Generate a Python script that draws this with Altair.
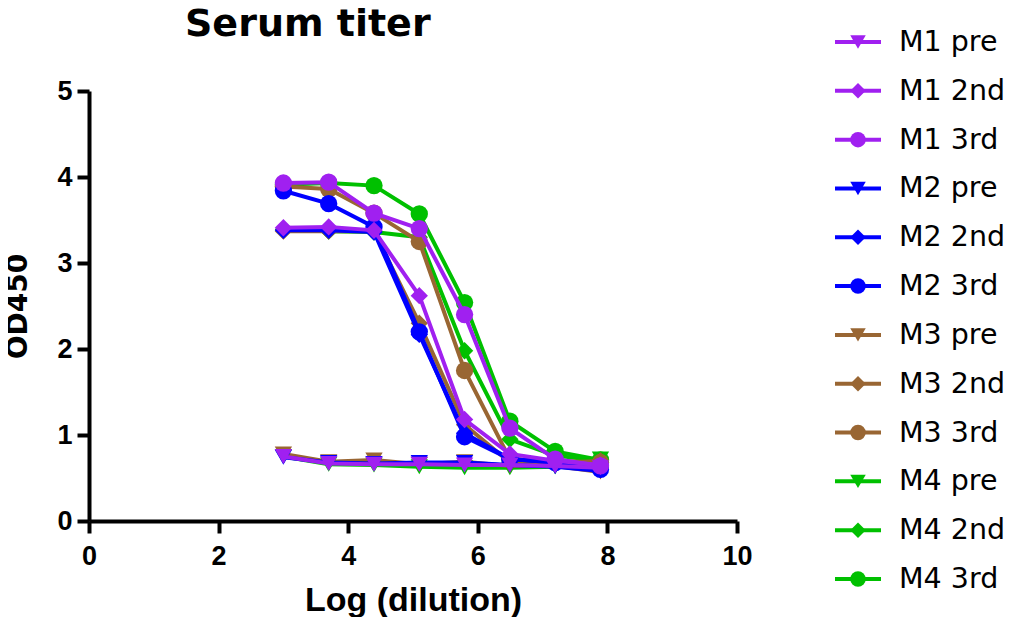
import altair as alt
import pandas as pd

# ---- data ----
x_vals = [3.0, 3.699, 4.398, 5.097, 5.796, 6.495, 7.194, 7.893]
mice = ["M1", "M2", "M3", "M4"]
bleeds = ["pre", "2nd", "3rd"]
colors = ["#A020F0", "#0000FF", "#996633", "#00C000"]
shapes = ["triangle-down", "diamond", "circle"]

m1_pre = [0.75, 0.67, 0.66, 0.66, 0.65, 0.65, 0.64, 0.62]
m1_2nd = [3.41, 3.42, 3.38, 2.62, 1.18, 0.78, 0.70, 0.65]
m1_3rd = [3.93, 3.94, 3.58, 3.40, 2.40, 1.08, 0.72, 0.64]
m2_pre = [0.74, 0.68, 0.67, 0.68, 0.68, 0.65, 0.63, 0.58]
m2_2nd = [3.38, 3.38, 3.36, 2.17, 1.02, 0.72, 0.68, 0.62]
m2_3rd = [3.84, 3.69, 3.42, 2.20, 0.98, 0.72, 0.68, 0.60]
m3_pre = [0.78, 0.69, 0.71, 0.66, 0.69, 0.64, 0.64, 0.57]
m3_2nd = [3.37, 3.37, 3.37, 2.30, 1.12, 0.68, 0.67, 0.70]
m3_3rd = [3.89, 3.86, 3.58, 3.25, 1.75, 0.72, 0.70, 0.68]
m4_pre = [0.75, 0.66, 0.65, 0.63, 0.62, 0.62, 0.63, 0.72]
m4_2nd = [3.39, 3.37, 3.36, 3.30, 1.98, 0.95, 0.76, 0.70]
m4_3rd = [3.91, 3.93, 3.90, 3.57, 2.54, 1.16, 0.81, 0.71]

series_values = {
    ("M1", "pre"): m1_pre, ("M1", "2nd"): m1_2nd, ("M1", "3rd"): m1_3rd,
    ("M2", "pre"): m2_pre, ("M2", "2nd"): m2_2nd, ("M2", "3rd"): m2_3rd,
    ("M3", "pre"): m3_pre, ("M3", "2nd"): m3_2nd, ("M3", "3rd"): m3_3rd,
    ("M4", "pre"): m4_pre, ("M4", "2nd"): m4_2nd, ("M4", "3rd"): m4_3rd,
}

rows = []
for m in mice:
    for b in bleeds:
        for xv, yv in zip(x_vals, series_values[(m, b)]):
            rows.append({"x": xv, "y": yv, "mouse": m, "bleed": b, "series": f"{m} {b}"})
df = pd.DataFrame(rows)

series_order = [f"{m} {b}" for m in mice for b in bleeds]
leg_df = pd.DataFrame({
    "series": series_order,
    "mouse": [m for m in mice for b in bleeds],
    "bleed": [b for m in mice for b in bleeds],
})

color_scale = alt.Scale(domain=mice, range=colors)
shape_scale = alt.Scale(domain=bleeds, range=shapes)

tick_font = "Liberation Sans, Arial, sans-serif"

xenc = alt.X("x:Q", scale=alt.Scale(domain=[0, 10]),
             axis=alt.Axis(values=[0, 2, 4, 6, 8, 10], title="Log (dilution)", labelFlush=False,
                           labelFont=tick_font, labelFontSize=27, labelFontWeight="bold",
                           labelPadding=10, titleFont=tick_font, titleFontSize=34,
                           titlePadding=14))
yenc = alt.Y("y:Q", scale=alt.Scale(domain=[0, 5]),
             axis=alt.Axis(values=[0, 1, 2, 3, 4, 5], title="OD450",
                           labelFont=tick_font, labelFontSize=27, labelFontWeight="bold",
                           labelPadding=5, titleFont="DejaVu Sans", titleFontSize=28,
                           titlePadding=24))

layers = []
for m in reversed(mice):
    sub = df[df.mouse == m]
    base = alt.Chart(sub).encode(
        x=xenc, y=yenc,
        color=alt.Color("mouse:N", scale=color_scale, legend=None),
    )
    layers.append(base.mark_line(strokeWidth=4).encode(detail="series:N"))
    layers.append(base.mark_point(filled=True, size=300, opacity=1, strokeWidth=0).encode(
        shape=alt.Shape("bleed:N", scale=shape_scale, legend=None)))

main = alt.layer(*layers).properties(
    width=648, height=430,
    title=alt.TitleParams("Serum titer", anchor="start", frame="group", dx=96,
                          font="DejaVu Sans", fontSize=38, fontWeight="bold",
                          color="black", offset=33),
)

lbase = alt.Chart(leg_df).encode(
    y=alt.Y("series:N", sort=series_order,
            scale=alt.Scale(type="point", range=[-49, 488], padding=0), axis=None),
    color=alt.Color("mouse:N", scale=color_scale, legend=None),
)
legend = alt.layer(
    lbase.mark_rule(strokeWidth=4).encode(x=alt.value(0), x2=alt.value(46)),
    lbase.mark_point(filled=True, size=240, opacity=1, strokeWidth=0).encode(
        x=alt.value(23), shape=alt.Shape("bleed:N", scale=shape_scale, legend=None)),
    lbase.mark_text(align="left", baseline="middle", font="DejaVu Sans", fontSize=28.5).encode(
        x=alt.value(64), text="series:N", color=alt.value("black")),
).properties(width=46, height=430)

chart = alt.hconcat(main, legend, spacing=80).properties(
    padding={"top": -2, "left": -4, "right": 0, "bottom": 0}
).configure_view(
    stroke=None
).configure_axis(
    grid=False, domainWidth=4, tickWidth=4, tickSize=12,
    domainColor="black", tickColor="black",
    labelColor="black", titleColor="black", titleFontWeight="bold",
)

chart.save("out.html", embed_options={"renderer": "svg", "actions": False})
